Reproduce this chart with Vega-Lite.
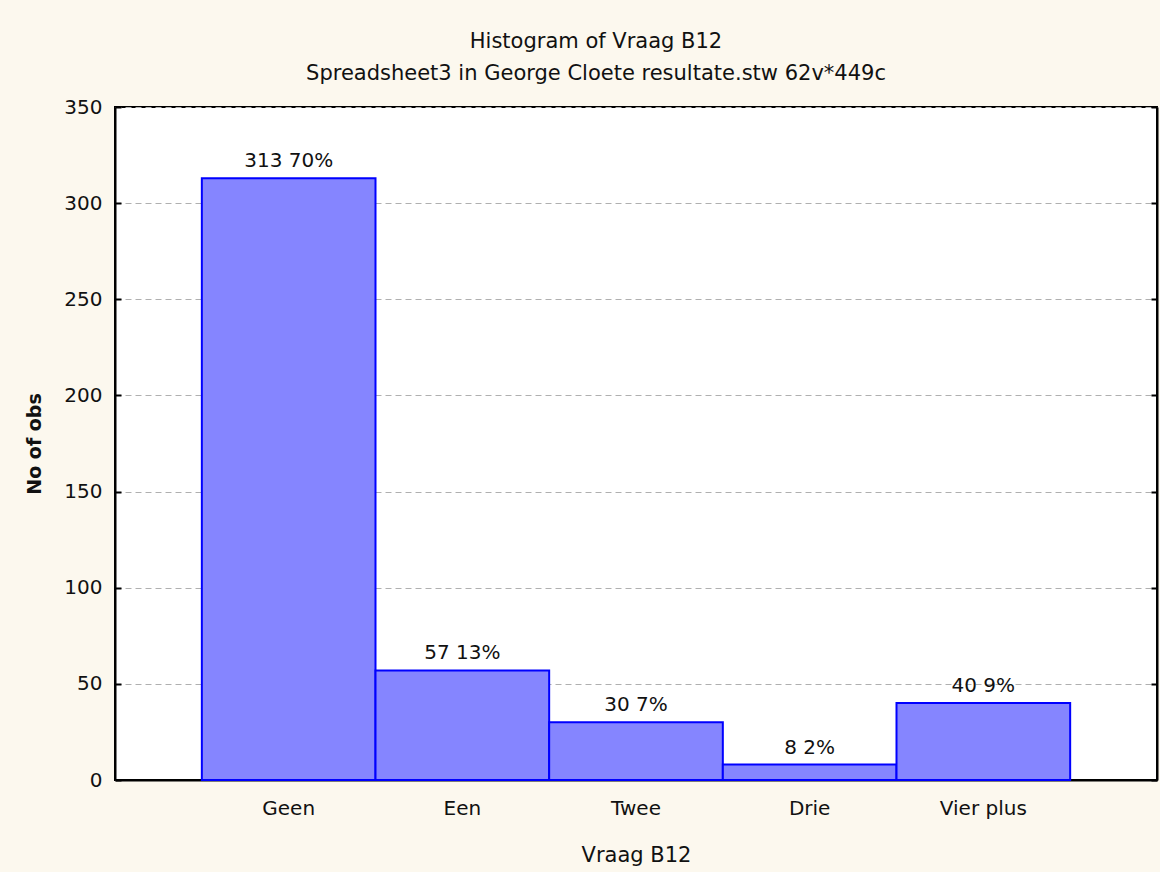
{
  "$schema": "https://vega.github.io/schema/vega-lite/v6.json",
  "width": 1042,
  "height": 673,
  "autosize": {"type": "none"},
  "padding": {"left": 115, "top": 107, "right": 3, "bottom": 92},
  "background": "#fcf8ee",
  "title": {
    "text": "Histogram of Vraag B12",
    "subtitle": "Spreadsheet3 in George Cloete resultate.stw 62v*449c",
    "anchor": "middle",
    "frame": "group",
    "dx": -40,
    "offset": 13,
    "font": "DejaVu Sans",
    "fontSize": 21,
    "fontWeight": "normal",
    "color": "#111111",
    "subtitleFont": "DejaVu Sans",
    "subtitleFontSize": 21,
    "subtitleColor": "#111111",
    "subtitlePadding": 11
  },
  "config": {
    "view": {"stroke": "#000000", "strokeWidth": 2, "fill": "#ffffff"},
    "font": "DejaVu Sans"
  },
  "resolve": {"axis": {"y": "independent"}},
  "data": {
    "values": [
      {"cat": "Geen", "n": 313, "label": "313 70%"},
      {"cat": "Een", "n": 57, "label": "57 13%"},
      {"cat": "Twee", "n": 30, "label": "30 7%"},
      {"cat": "Drie", "n": 8, "label": "8 2%"},
      {"cat": "Vier plus", "n": 40, "label": "40 9%"}
    ]
  },
  "encoding": {
    "x": {
      "field": "cat",
      "type": "nominal",
      "sort": null,
      "scale": {"paddingInner": 0, "paddingOuter": 0.5},
      "axis": {
        "title": "Vraag B12",
        "labelAngle": 0,
        "labelFont": "DejaVu Sans",
        "labelFontSize": 20,
        "labelColor": "#111111",
        "labelPadding": 24,
        "tickSize": -6,
        "tickColor": "#000000",
        "tickWidth": 2,
        "domainColor": "#000000",
        "domainWidth": 2,
        "titleFont": "DejaVu Sans",
        "titleFontSize": 21,
        "titleFontWeight": "normal",
        "titleColor": "#111111",
        "titlePadding": 26
      }
    }
  },
  "layer": [
    {
      "mark": {"type": "bar", "fill": "#8585ff", "stroke": "#0000ff", "strokeWidth": 2},
      "encoding": {
        "y": {
          "field": "n",
          "type": "quantitative",
          "scale": {"domain": [0, 350], "nice": false},
          "axis": {
            "title": "No of obs",
            "values": [0, 50, 100, 150, 200, 250, 300, 350],
            "labelFont": "DejaVu Sans",
            "labelFontSize": 20,
            "labelColor": "#111111",
            "labelPadding": 19,
            "tickSize": -6,
            "tickColor": "#000000",
            "tickWidth": 2,
            "domainColor": "#000000",
            "domainWidth": 2,
            "grid": true,
            "gridColor": "#b0b0b0",
            "gridDash": [6, 4],
            "gridWidth": 1,
            "titleFont": "DejaVu Sans",
            "titleFontSize": 19,
            "titleFontWeight": "bold",
            "titleColor": "#111111",
            "titlePadding": 19
          }
        }
      }
    },
    {
      "mark": {"type": "text", "baseline": "alphabetic", "dy": -11, "fontSize": 20, "font": "DejaVu Sans", "color": "#111111"},
      "encoding": {
        "y": {
          "field": "n",
          "type": "quantitative",
          "scale": {"domain": [0, 350], "nice": false},
          "axis": {
            "orient": "right",
            "title": null,
            "values": [0, 50, 100, 150, 200, 250, 300, 350],
            "labels": false,
            "tickSize": -6,
            "tickColor": "#000000",
            "tickWidth": 2,
            "domainColor": "#000000",
            "domainWidth": 2,
            "grid": false
          }
        },
        "text": {"field": "label"}
      }
    }
  ]
}
